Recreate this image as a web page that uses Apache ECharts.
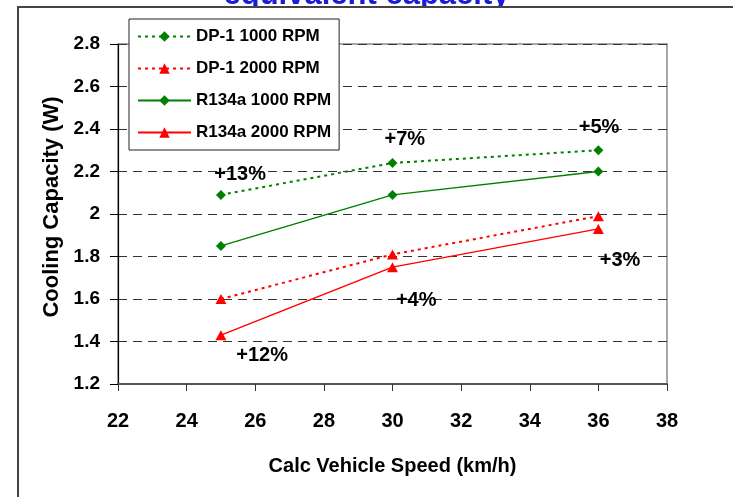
<!DOCTYPE html>
<html>
<head>
<meta charset="utf-8">
<script src="https://cdn.jsdelivr.net/npm/echarts@6/dist/echarts.min.js"></script>
<style>
html,body{margin:0;padding:0;background:#fff;}
#chart{width:733px;height:497px;}
</style>
</head>
<body>
<div id="chart"></div>
<script>
// ---- data ----
const speeds = [25, 30, 36];
const dp1_1000 = [2.09, 2.24, 2.30];
const dp1_2000 = [1.60, 1.81, 1.99];
const r134a_1000 = [1.85, 2.09, 2.20];
const r134a_2000 = [1.43, 1.75, 1.93];
const seriesNames = ['DP-1 1000 RPM', 'DP-1 2000 RPM', 'R134a 1000 RPM', 'R134a 2000 RPM'];
const annotText = ['+13%', '+7%', '+5%', '+3%', '+4%', '+12%'];
const annotX = [25.56, 30.36, 36.02, 36.63, 30.69, 26.2];
const annotY = [2.184, 2.35, 2.408, 1.78, 1.592, 1.332];
const xTicks = {min: 22, max: 38, interval: 2};
const yTicks = {min: 1.2, max: 2.8, interval: 0.2};
const titleText = 'equivalent capacity';
const xTitle = 'Calc Vehicle Speed (km/h)';
const yTitle = 'Cooling Capacity (W)';

const FONT = '"Liberation Sans", Arial, sans-serif';
const GREEN = '#008000', RED = '#ff0000';

function pairs(ys){ return speeds.map((x,i)=>[x, ys[i]]); }

const chart = echarts.init(document.getElementById('chart'), null, {renderer:'canvas'});
chart.setOption({
  animation: false,
  backgroundColor: '#fff',
  textStyle: {fontFamily: FONT},
  graphic: [
    {type:'text', z:-5, left:'center', top:-20, style:{text:titleText, fill:'#1c1cd6', font:'bold 31px ' + FONT}},
    {type:'rect', z:-4, shape:{x:18, y:7, width:800, height:600}, style:{fill:'#fff', stroke:'#444', lineWidth:2}}
  ],
  grid: {left:118, top:44, width:549, height:340, show:true, borderColor:'#8a8a8a', borderWidth:1.5, backgroundColor:'transparent'},
  legend: {
    orient:'vertical', left:129, top:19,
    data: seriesNames,
    itemWidth:53, itemHeight:13, itemGap:15,
    padding:[9,8,9,8],
    backgroundColor:'#fff', borderColor:'#222', borderWidth:1,
    textStyle:{fontFamily:FONT, fontWeight:'bold', fontSize:17, color:'#000'}
  },
  xAxis: {
    type:'value', min:xTicks.min, max:xTicks.max, interval:xTicks.interval,
    name:xTitle, nameLocation:'middle', nameGap:72,
    nameTextStyle:{fontFamily:FONT, fontWeight:'bold', fontSize:20, color:'#000'},
    axisLine:{show:true, onZero:false, lineStyle:{color:'#555', width:2}},
    axisTick:{show:true, inside:false, length:7, lineStyle:{color:'#333', width:1}},
    axisLabel:{margin:27, fontFamily:FONT, fontWeight:'bold', fontSize:20, color:'#000'},
    splitLine:{show:false}
  },
  yAxis: {
    type:'value', min:yTicks.min, max:yTicks.max, interval:yTicks.interval,
    name:yTitle, nameLocation:'middle', nameGap:55, nameRotate:90,
    nameTextStyle:{fontFamily:FONT, fontWeight:'bold', fontSize:22, color:'#000', padding:[0,0,0,14]},
    axisLine:{show:true, onZero:false, lineStyle:{color:'#000', width:1.2}},
    axisTick:{show:true, inside:false, length:8, lineStyle:{color:'#000', width:1}},
    axisLabel:{margin:18, fontFamily:FONT, fontWeight:'bold', fontSize:19, color:'#000'},
    splitLine:{show:true, lineStyle:{color:'#333', width:1, type:[9,6]}}
  },
  series: [
    {name:seriesNames[0], type:'line', data:pairs(dp1_1000), symbol:'diamond', symbolSize:10,
     itemStyle:{color:GREEN}, lineStyle:{color:GREEN, width:2, type:[3,4]}, z:3},
    {name:seriesNames[1], type:'line', data:pairs(dp1_2000), symbol:'triangle', symbolSize:[11,10],
     itemStyle:{color:RED}, lineStyle:{color:RED, width:2, type:[3,4]}, z:3},
    {name:seriesNames[2], type:'line', data:pairs(r134a_1000), symbol:'diamond', symbolSize:10,
     itemStyle:{color:GREEN}, lineStyle:{color:GREEN, width:1.5, type:'solid'}, z:3},
    {name:seriesNames[3], type:'line', data:pairs(r134a_2000), symbol:'triangle', symbolSize:[11,10],
     itemStyle:{color:RED}, lineStyle:{color:RED, width:1.5, type:'solid'}, z:3},
    {name:'annotations', type:'scatter', symbolSize:1, z:4,
     itemStyle:{opacity:1, color:'transparent'},
     data: annotX.map((x,i)=>[x, annotY[i], annotText[i]]),
     label:{show:true, position:'inside', formatter:p=>p.value[2], opacity:1,
            fontFamily:FONT, fontWeight:'bold', fontSize:20, color:'#000'}}
  ]
});
</script>
</body>
</html>
